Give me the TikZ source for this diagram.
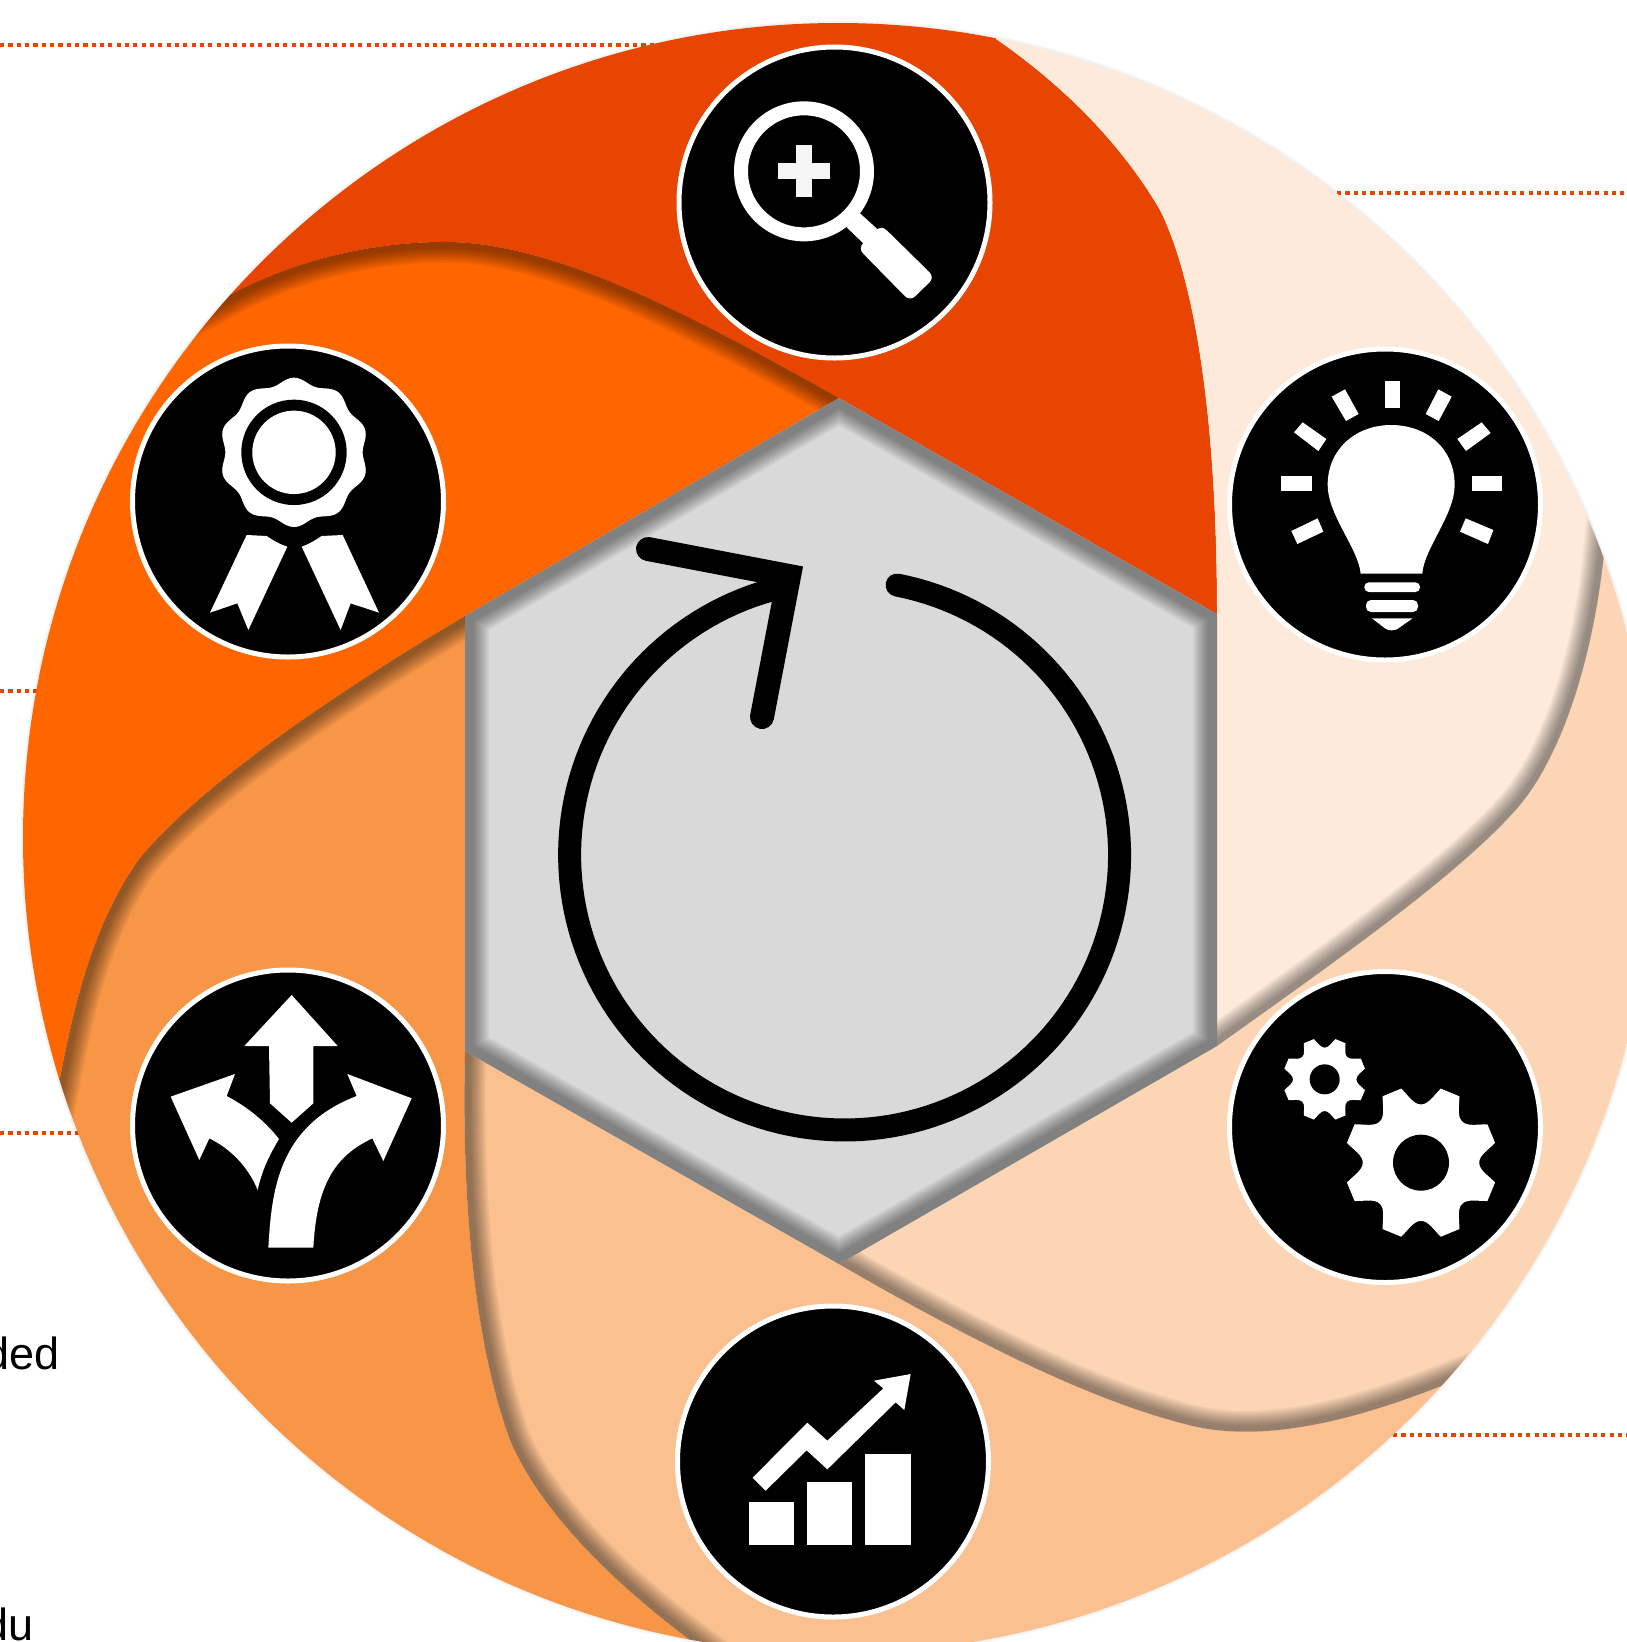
\documentclass[tikz,border=0pt]{standalone}
\usepackage{fontspec}
\setmainfont{Liberation Sans}
\definecolor{pa}{HTML}{E84503}
\definecolor{pb}{HTML}{FF6600}
\definecolor{pc}{HTML}{F79646}
\definecolor{pd}{HTML}{FAC090}
\definecolor{pe}{HTML}{FCD5B5}
\definecolor{pf}{HTML}{FDEADA}
\definecolor{hexgray}{HTML}{D9D9D9}
\tikzset{
  dotline/.style={draw=pa,line width=4.2pt,dash pattern=on 4.2pt off 4.13pt},
  icondisc/.style={circle,fill=black,draw=white,line width=5pt,minimum size=311pt,inner sep=0pt,outer sep=0pt},
  zf/.style={x=0.33333pt,y=-0.33333pt},
  sidetext/.style={anchor=base east,inner sep=0pt,font=\fontsize{45}{50}\selectfont}
}
% shared curves, forward
\def\cAB{(228,296) .. controls (290,262) and (370,241) .. (450,242) .. controls (560,244) and (700,320) .. (839,398)}
\def\cBC{(465,616) .. controls (340,690) and (200,785) .. (140,858) .. controls (95,920) and (75,1000) .. (60,1078)}
\def\cCD{(465,1051) .. controls (462,1180) and (470,1330) .. (510,1440) .. controls (540,1510) and (610,1580) .. (690,1640)}
\def\cDE{(839,1264) .. controls (970,1340) and (1090,1400) .. (1185,1424) .. controls (1260,1445) and (1355,1420) .. (1441,1386)}
\def\cEF{(1217,1046) .. controls (1330,965) and (1460,875) .. (1520,805) .. controls (1565,750) and (1595,650) .. (1605,544)}
% regions (overrun the wheel, which clips them)
\edef\rA{(839,398) -- (1217,614) .. controls (1217,420) and (1195,280) .. (1160,210) .. controls (1125,150) and (1070,90) .. (996,39) -- (1010,-60) -- (100,-60) -- (100,183) -- \cAB -- cycle}
\edef\rB{(100,183) -- \cAB -- \cBC -- (-60,1120) -- (-60,100) -- cycle}
\edef\rC{(-60,1120) -- (60,1078) .. controls (75,1000) and (95,920) .. (140,858) .. controls (200,785) and (340,690) .. (465,616) -- \cCD -- (660,1760) -- (-60,1760) -- cycle}
\edef\rD{\cDE -- (1520,1460) -- (1520,1760) -- (660,1760) -- (690,1640) .. controls (610,1580) and (540,1510) .. (510,1440) .. controls (470,1330) and (462,1180) .. (465,1051) -- cycle}
\edef\rE{\cDE -- (1520,1460) -- (1760,1460) -- (1760,485) -- (1605,544) .. controls (1595,650) and (1565,750) .. (1520,805) .. controls (1460,875) and (1330,965) .. (1217,1046) -- cycle}
\edef\rF{(1217,614) -- \cEF -- (1760,485) -- (1760,-60) -- (1010,-60) -- (996,39) .. controls (1070,90) and (1125,150) .. (1160,210) .. controls (1195,280) and (1217,420) .. (1217,614) -- cycle}
\def\rH{(839,398) -- (1217,614) -- (1217,1046) -- (839,1264) -- (465,1051) -- (465,616) -- cycle}
\newcommand{\inshadow}[2]{%
  \begin{scope}
    \clip #1;
    \foreach \w in {12,15,...,42} {\draw[black,opacity=.045,line width=\w pt,line join=round] #2;}
  \end{scope}}
\newcommand{\cog}[1]{%
  \fill[white] (15:#1)
    \foreach \k in {0,...,7} {
      -- ({30+45*\k}:#1)
      .. controls ({34+45*\k}:{.9*#1}) and ({38+45*\k}:{.76*#1}) .. ({45+45*\k}:{.76*#1})
      .. controls ({52+45*\k}:{.76*#1}) and ({56+45*\k}:{.9*#1}) .. ({60+45*\k}:#1)
    } -- cycle;}
\begin{document}
\begin{tikzpicture}[x=1pt,y=-1pt]
\useasboundingbox (0,0) rectangle (1627,1642);
\clip (0,0) rectangle (1627,1642);
\fill[white] (0,0) rectangle (1627,1642);
% dotted leaders
\coordinate (d1a) at (0,45);      \coordinate (d1b) at (660,45);
\coordinate (d2a) at (0,691);     \coordinate (d2b) at (40,691);
\coordinate (d3a) at (0,1133);    \coordinate (d3b) at (85,1133);
\coordinate (d4a) at (1337,193);  \coordinate (d4b) at (1627,193);
\coordinate (d5a) at (1393,1435); \coordinate (d5b) at (1627,1435);
\draw[dotline] (d1a) -- (d1b);
\draw[dotline] (d2a) -- (d2b);
\draw[dotline] (d3a) -- (d3b);
\draw[dotline] (d4a) -- (d4b);
\draw[dotline] (d5a) -- (d5b);
% cut-off texts
\node[sidetext] (tded) at (59.5,1369) {ded};
\node[sidetext] (tdu) at (33.5,1640) {du};
% faint shadow round the wheel
\foreach \w in {2,4,6} {\draw[black,opacity=.02,line width=\w pt] (838,838) circle[radius=815pt];}
% petals
\begin{scope}
  \clip (838,838) circle[radius=815pt];
  \fill[pa] \rA;
  \fill[pb] \rB;
  \fill[pc] \rC;
  \fill[pd] \rD;
  \fill[pe] \rE;
  \fill[pf] \rF;
  \edef\sAB{(104,364) -- \cAB}
  \edef\sBC{\cBC -- (45,1156)}
  \edef\sCD{\cCD -- (770,1700)}
  \edef\sDE{\cDE -- (1527,1352)}
  \edef\sEF{\cEF -- (1615,438)}
  \inshadow{\rB}{\sAB}
  \inshadow{\rC}{\sBC}
  \inshadow{\rD}{\sCD}
  \inshadow{\rE}{\sDE}
  \inshadow{\rF}{\sEF}
\end{scope}
% hexagon with inner shadow
\fill[hexgray] \rH;
\begin{scope}
  \clip \rH;
  \foreach \w in {18,21,...,48} {\draw[black,opacity=.045,line width=\w pt,line join=round] \rH;}
\end{scope}
% central cycle icon
\draw[black,line width=23pt,line cap=round] plot[domain=79:-254.5,samples=160,variable=\t] ({844.6+275*cos(\t)},{855-275*sin(\t)});
\draw[black,line width=24pt,line cap=round,line join=miter,miter limit=10] (648,549) -- (789,576) -- (762,717);
% icon discs
\node[icondisc] (mag) at (834.5,202.5) {};
\node[icondisc] (rib) at (288,501.5) {};
\node[icondisc] (bulb) at (1385,504.5) {};
\node[icondisc] (gear) at (1385,1127) {};
\node[icondisc] (fork) at (288,1125.5) {};
\node[icondisc] (chart) at (833,1461.5) {};
% magnifier
\begin{scope}[shift={(660,30)},zf]
  \draw[white,line width=14pt] (432,424) circle[radius=63pt];
  \fill[white!96!black] (353,400) rectangle (510,446);
  \fill[white!96!black] (408,345) rectangle (455,500);
  \fill[white] (600,550) -- (655,600) -- (610,640) -- (560,592) -- cycle;
  \fill[white,rounded corners=7pt] (664,585) -- (824,742) -- (750,814) -- (594,655) -- cycle;
\end{scope}
% rosette
\begin{scope}[shift={(120,330)},zf]
  \fill[white] plot[domain=0:360,samples=181,variable=\t] ({522+(215+9*cos(10*(\t-90)))*cos(\t)},{367-(215+9*cos(10*(\t-90)))*sin(\t)}) -- cycle;
  \fill[black] (522,367) circle[radius=52.7pt];
  \fill[white] (522,367) circle[radius=41.7pt];
  \fill[white] (380,615) -- (440,618) .. controls (465,635) and (485,645) .. (502,650) -- (385,900) -- (352,820) -- (270,848) -- cycle;
  \fill[white] (668,615) -- (605,618) .. controls (580,635) and (560,645) .. (545,650) -- (662,900) -- (692,820) -- (777,848) -- cycle;
\end{scope}
% bulb
\begin{scope}[shift={(1220,335)},zf]
  \fill[white] (422,716) .. controls (415,640) and (323,540) .. (323,450) .. controls (323,340) and (410,270) .. (513,270) .. controls (620,270) and (704,340) .. (704,450) .. controls (704,540) and (612,640) .. (607,716) -- cycle;
  \fill[white] (495,138) rectangle (540,220);
  \fill[white] (182,423) rectangle (277,467);
  \fill[white] (757,423) rectangle (845,467);
  \fill[white] (335,185) -- (375,163) -- (416,237) -- (378,258) -- cycle;
  \fill[white] (655,163) -- (695,185) -- (656,258) -- (617,237) -- cycle;
  \fill[white] (222,292) -- (248,262) -- (319,312) -- (295,348) -- cycle;
  \fill[white] (785,262) -- (812,294) -- (738,348) -- (712,312) -- cycle;
  \fill[white] (214,588) -- (293,550) -- (310,590) -- (232,627) -- cycle;
  \fill[white] (737,550) -- (820,585) -- (804,627) -- (720,590) -- cycle;
  \fill[white,rounded corners=4.5pt] (433,742) rectangle (600,771);
  \fill[white,rounded corners=5pt] (438,795) rectangle (594,831);
  \fill[white] (456,850) -- (578,850) -- (535,880) .. controls (525,888) and (505,888) .. (495,880) -- cycle;
\end{scope}
% gears
\begin{scope}[shift={(1220,960)},zf]
  \begin{scope}[shift={(603,608)}]
    \cog{230}
    \fill[black] (0,0) circle[radius=28pt];
  \end{scope}
  \begin{scope}[shift={(314,358)}]
    \cog{125}
    \fill[black] (0,0) circle[radius=15pt];
  \end{scope}
\end{scope}
% three-way arrow
\begin{scope}[shift={(120,960)},zf]
  \fill[white] (515,105) -- (653,258) -- (580,258) -- (580,430) -- (515,488) -- (450,430) -- (447,258) -- (373,258) -- cycle;
  \fill[white] (445,863) .. controls (455,700) and (470,500) .. (710,408) -- (682,342) -- (875,415) -- (790,603) -- (757,535) .. controls (640,590) and (590,680) .. (580,863) -- cycle;
  \fill[white] (320,408) .. controls (390,445) and (440,490) .. (477,537) .. controls (445,590) and (425,635) .. (413,690) .. controls (385,620) and (330,565) .. (268,535) -- (238,600) -- (152,410) -- (345,342) -- cycle;
\end{scope}
% chart
\begin{scope}[shift={(665,1295)},zf]
  \fill[white] (252,622) rectangle (386,750);
  \fill[white] (426,561) rectangle (562,750);
  \fill[white] (601,476) rectangle (737,750);
  \fill[white] (263,548) -- (427,383) -- (487,437) -- (655,280) -- (627,257) -- (737,237) -- (718,345) -- (692,322) -- (487,523) -- (425,466) -- (302,587) -- cycle;
\end{scope}
\end{tikzpicture}
\end{document}
